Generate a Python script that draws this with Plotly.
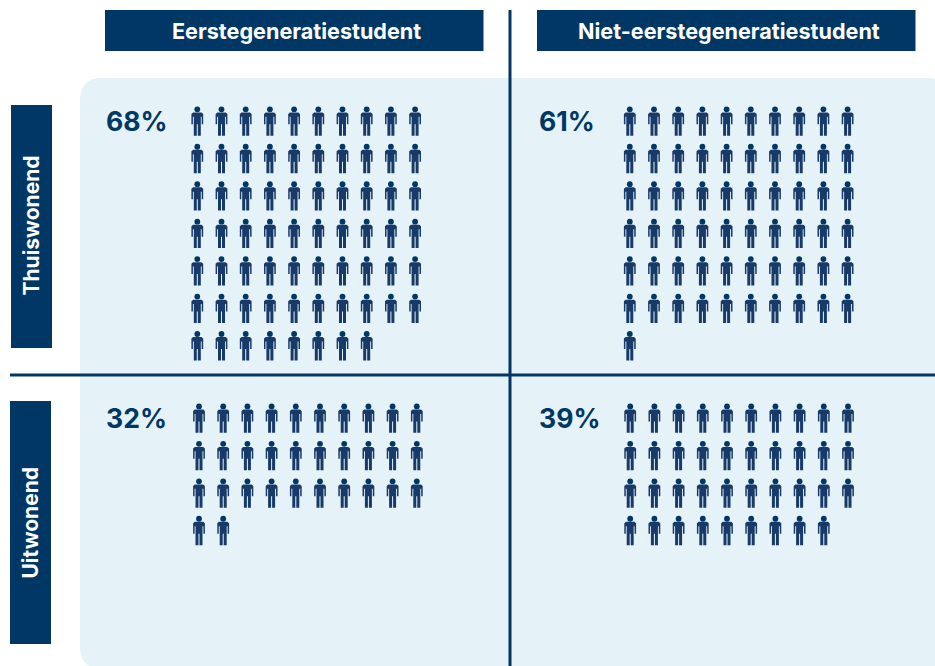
import plotly.graph_objects as go

columns = ["Eerstegeneratiestudent", "Niet-eerstegeneratiestudent"]
rows = ["Thuiswonend", "Uitwonend"]
percent_labels = ["68%", "61%", "32%", "39%"]
people_counts = [68, 61, 32, 39]

NAVY = "#003764"
ICON = "#173a68"
PANEL = "#e5f2f8"
W, H = 935, 666
PER_ROW = 10
DX, DY = 24.2, 37.45
# icon grid origin (first head centre) and percent label position per panel
origins = [(197.3, 109.3), (629.8, 109.3), (199.0, 406.4), (630.2, 406.4)]
label_xy = [(103.8, 120.8), (536.8, 120.8), (103.8, 417.8), (536.8, 417.8)]

BODY = [(-4.2, 3.1), (4.2, 3.1), (5.9, 4.6), (5.9, 15), (4.4, 15), (4.4, 7.5), (3.5, 7.5),
        (3.5, 26.4), (0.5, 26.4), (0.5, 15), (-0.5, 15), (-0.5, 26.4), (-3.5, 26.4),
        (-3.5, 7.5), (-4.4, 7.5), (-4.4, 15), (-5.9, 15), (-5.9, 4.6)]

bx, by, hx, hy = [], [], [], []
for n, (ox, oy) in zip(people_counts, origins):
    for i in range(n):
        cx = ox + (i % PER_ROW) * DX
        cy = oy + (i // PER_ROW) * DY
        hx.append(cx)
        hy.append(cy)
        bx += [cx + p[0] for p in BODY] + [cx + BODY[0][0], None]
        by += [cy + p[1] for p in BODY] + [cy + BODY[0][1], None]

fig = go.Figure()
fig.add_trace(go.Scatter(x=bx, y=by, mode="lines", fill="toself", fillcolor=ICON,
                         line=dict(width=0, color=ICON), hoverinfo="skip", showlegend=False))
fig.add_trace(go.Scatter(x=hx, y=hy, mode="markers", marker=dict(size=5.8, color=NAVY, line=dict(width=0)),
                         hoverinfo="skip", showlegend=False))

def rect(x0, y0, x1, y1, color):
    return dict(type="rect", x0=x0, y0=y0, x1=x1, y1=y1, fillcolor=color, line=dict(width=0), layer="below")

r = 22
L, T, R, B = 80, 78, 950, 669
panel = (f"M{L+r},{T} L{R-r},{T} Q{R},{T} {R},{T+r} L{R},{B-r} Q{R},{B} {R-r},{B} "
         f"L{L+r},{B} Q{L},{B} {L},{B-r} L{L},{T+r} Q{L},{T} {L+r},{T} Z")
shapes = [dict(type="path", path=panel, fillcolor=PANEL, line=dict(width=0), layer="below"),
          rect(105, 10, 483.5, 51, NAVY), rect(537, 10, 915.5, 51, NAVY),
          rect(11, 105, 52, 348, NAVY), rect(10, 401, 51, 644, NAVY),
          dict(type="line", x0=510, x1=510, y0=10, y1=666, line=dict(color=NAVY, width=3), layer="below"),
          dict(type="line", x0=10, x1=935, y0=375, y1=375, line=dict(color=NAVY, width=3), layer="below")]

ann = []
def txt(x, y, t, size, color, anchor="center", angle=0):
    ann.append(dict(x=x, y=y, text=t, showarrow=False, xanchor=anchor, yanchor="middle", textangle=angle,
                    font=dict(family="Inter", size=size, color=color, weight=700)))
txt(296, 30.5, columns[0], 21.6, "white")
txt(728.5, 30.5, columns[1], 21.6, "white")
txt(30.5, 226, rows[0], 21, "white", angle=-90)
txt(29.5, 523, rows[1], 21, "white", angle=-90)
for t, (x, y) in zip(percent_labels, label_xy):
    txt(x, y, t, 26.6, NAVY, anchor="left")

fig.update_layout(width=W, height=H, margin=dict(l=0, r=0, t=0, b=0), paper_bgcolor="white", plot_bgcolor="white",
                  xaxis=dict(range=[0, W], visible=False, fixedrange=True),
                  yaxis=dict(range=[H, 0], visible=False, fixedrange=True),
                  shapes=shapes, annotations=ann, showlegend=False)
fig.write_html("out.html", config={"displayModeBar": False},
               post_script="document.body.style.margin='0';")
